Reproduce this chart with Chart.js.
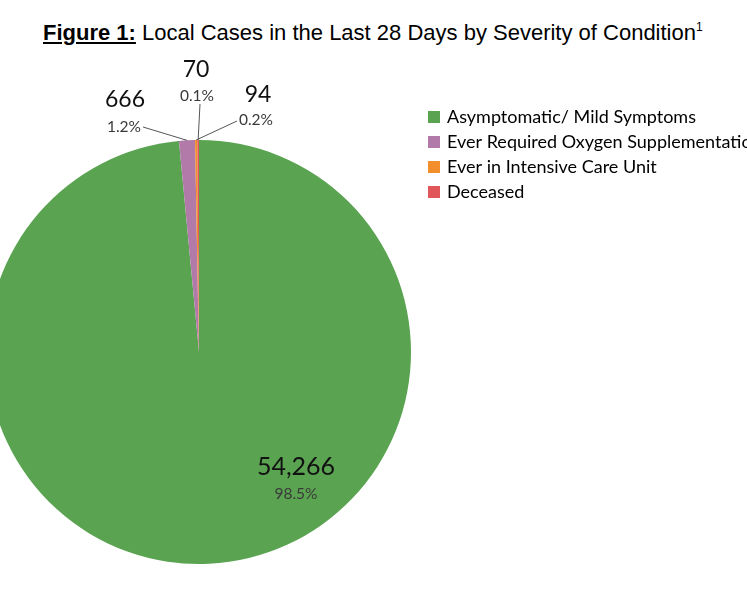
<!DOCTYPE html>
<html>
<head>
<meta charset="utf-8">
<script src="https://cdn.jsdelivr.net/npm/chart.js@4.4.1/dist/chart.umd.min.js"></script>
<style>
  html, body { margin: 0; padding: 0; background: #fff; overflow: hidden; }
  body { width: 747px; height: 598px; position: relative; }
  #title {
    position: absolute; left: 43px; top: 20px;
    font-family: "Liberation Sans", Arial, sans-serif; font-size: 22px; color: #000;
    white-space: nowrap;
  }
  #title b { text-decoration: underline; }
  #title sup { font-size: 12px; vertical-align: 9px; }
  #wrap { position: absolute; left: -13px; top: 0; width: 800px; height: 598px; }
</style>
</head>
<body>
<div id="title"><b>Figure 1:</b> Local Cases in the Last 28 Days by Severity of Condition<sup>1</sup></div>
<div id="wrap"><canvas id="pie" width="800" height="598"></canvas></div>
<script>
const categories = ['Asymptomatic/ Mild Symptoms', 'Ever Required Oxygen Supplementation', 'Ever in Intensive Care Unit', 'Deceased'];
const cases = [54266, 666, 94, 70];
const percentLabels = ['98.5%', '1.2%', '0.2%', '0.1%'];
const colours = ['#5aa351', '#b27aa9', '#f28e2b', '#e15759'];

// where each label sits (page coords) and where its leader line starts
const labelSpots = [
    { num: [296, 467], pct: [296, 494], line: null },
    { num: [125, 100], pct: [124, 127], line: [143, 127] },
    { num: [258, 95], pct: [256, 120], line: [237, 121] },
    { num: [196, 70], pct: [197, 96], line: [200, 104] }
];
const SHIFT = 13; // canvas starts 13px left of the page

const labelsPlugin = {
    id: 'pieLabels',
    afterDraw(chart) {
        const ctx = chart.ctx;
        const meta = chart.getDatasetMeta(0);
        ctx.save();
        meta.data.forEach((arc, i) => {
            const spot = labelSpots[i];
            if (spot.line) {
                const mid = (arc.startAngle + arc.endAngle) / 2;
                const ax = arc.x + Math.cos(mid) * arc.outerRadius;
                const ay = arc.y + Math.sin(mid) * arc.outerRadius;
                ctx.strokeStyle = '#555';
                ctx.lineWidth = 1;
                ctx.beginPath();
                ctx.moveTo(spot.line[0] + SHIFT, spot.line[1]);
                ctx.lineTo(ax, ay);
                ctx.stroke();
            }
            ctx.textAlign = 'center';
            ctx.textBaseline = 'middle';
            ctx.fillStyle = '#111';
            ctx.font = (i === 0 ? '25px' : '23px') + ' Lato, "Open Sans", sans-serif';
            ctx.fillText(cases[i].toLocaleString('en-US'), spot.num[0] + SHIFT, spot.num[1]);
            ctx.fillStyle = '#3a3a3a';
            ctx.font = '15.5px Lato, "Open Sans", sans-serif';
            ctx.fillText(percentLabels[i], spot.pct[0] + SHIFT, spot.pct[1]);
        });

        // legend
        ctx.textAlign = 'left';
        ctx.textBaseline = 'middle';
        ctx.font = '18px Lato, "Open Sans", sans-serif';
        categories.forEach((c, i) => {
            const y = 117 + i * 25;
            ctx.fillStyle = colours[i];
            ctx.fillRect(428 + SHIFT, y - 6, 12, 12);
            ctx.fillStyle = '#000';
            ctx.fillText(c, 447 + SHIFT, y);
        });
        ctx.restore();
    }
};

new Chart(document.getElementById('pie'), {
    type: 'pie',
    data: {
        labels: categories,
        datasets: [{
            data: cases,
            backgroundColor: colours,
            borderWidth: 0
        }]
    },
    options: {
        responsive: false,
        animation: false,
        layout: { padding: { left: 0, right: 376, top: 140, bottom: 34 } },
        plugins: {
            legend: { display: false },
            tooltip: { enabled: false },
            title: { display: false }
        }
    },
    plugins: [labelsPlugin]
});
</script>
</body>
</html>
